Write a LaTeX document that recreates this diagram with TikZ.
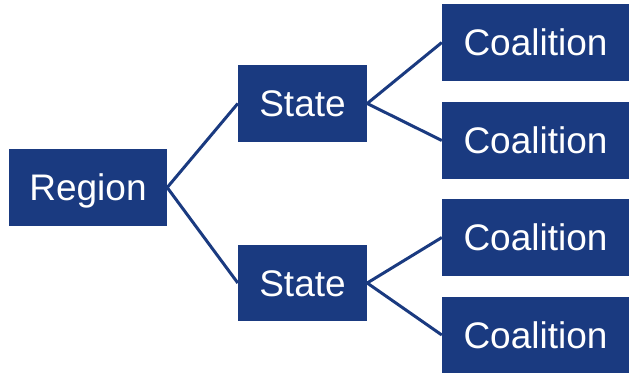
\documentclass[tikz,border=0pt]{standalone}
\usepackage{fontspec}
\setmainfont{Liberation Sans}
\definecolor{navy}{HTML}{1A3A80}
\begin{document}
\begin{tikzpicture}[x=1pt,y=-1pt,
  box/.style={draw=none,fill=navy,text=white,inner sep=0pt,text height=26.5pt,text depth=0pt,font=\fontsize{37}{44}\selectfont},
  link/.style={draw=navy,line width=3pt}]
\useasboundingbox (0,0) rectangle (629,374);
\node[box,minimum width=158pt,minimum height=77pt] (r) at (88,187.5) {Region};
\node[box,minimum width=129pt,minimum height=77pt] (s1) at (302.5,103.5) {State};
\node[box,minimum width=129pt,minimum height=76pt] (s2) at (302.5,283) {State};
\node[box,minimum width=187pt,minimum height=77pt] (c1) at (535.5,42.5) {Coalition};
\node[box,minimum width=187pt,minimum height=77pt] (c2) at (535.5,140.5) {Coalition};
\node[box,minimum width=187pt,minimum height=77pt] (c3) at (535.5,237.5) {Coalition};
\node[box,minimum width=187pt,minimum height=76pt] (c4) at (535.5,335) {Coalition};
\draw[link] (r.east) -- (s1.west);
\draw[link] (r.east) -- (s2.west);
\draw[link] (s1.east) -- (c1.west);
\draw[link] (s1.east) -- (c2.west);
\draw[link] (s2.east) -- (c3.west);
\draw[link] (s2.east) -- (c4.west);
\end{tikzpicture}
\end{document}
